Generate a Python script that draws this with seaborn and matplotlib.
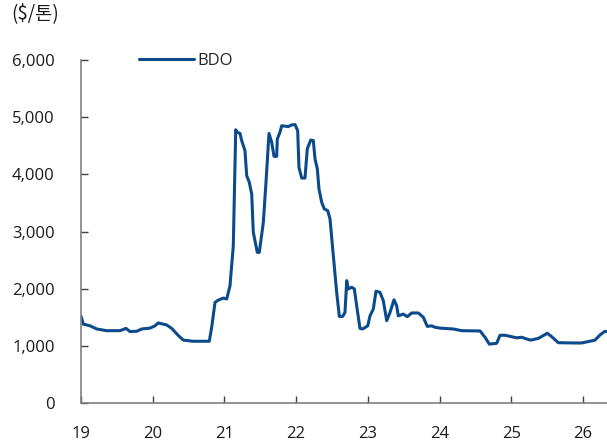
import pandas as pd
import matplotlib.pyplot as plt
import seaborn as sns

# BDO price (x = decimal year, 19 = 2019)
years = [19.000, 19.032, 19.126, 19.219, 19.358, 19.544, 19.628, 19.683, 19.777, 19.847,
         19.962, 20.032, 20.078, 20.195, 20.265, 20.357, 20.427, 20.566, 20.789, 20.823,
         20.869, 20.915, 20.985, 21.032, 21.078, 21.124, 21.158, 21.180, 21.218, 21.241,
         21.287, 21.311, 21.347, 21.381, 21.403, 21.459, 21.487, 21.543, 21.580, 21.622,
         21.660, 21.692, 21.729, 21.738, 21.775, 21.799, 21.891, 21.939, 21.985, 22.022,
         22.040, 22.078, 22.124, 22.156, 22.204, 22.240, 22.264, 22.296, 22.319, 22.357,
         22.393, 22.441, 22.473, 22.519, 22.566, 22.603, 22.650, 22.682, 22.706, 22.728,
         22.776, 22.812, 22.845, 22.891, 22.929, 22.999, 23.031, 23.077, 23.114, 23.170,
         23.216, 23.264, 23.310, 23.365, 23.403, 23.425, 23.495, 23.551, 23.612, 23.704,
         23.774, 23.830, 23.891, 23.937, 24.007, 24.192, 24.310, 24.565, 24.635, 24.695,
         24.798, 24.844, 24.914, 25.077, 25.146, 25.216, 25.272, 25.378, 25.448, 25.503,
         25.565, 25.657, 25.866, 25.983, 26.169, 26.238, 26.308, 26.336]
price = [1520, 1380, 1350, 1295, 1265, 1265, 1305, 1250, 1255, 1295,
         1310, 1350, 1400, 1365, 1305, 1180, 1100, 1080, 1080, 1325,
         1760, 1800, 1835, 1820, 2050, 2750, 4780, 4735, 4715, 4590,
         4415, 3975, 3860, 3655, 2985, 2635, 2635, 3160, 3860, 4715,
         4560, 4315, 4315, 4620, 4735, 4850, 4835, 4865, 4870, 4765,
         4120, 3935, 3935, 4445, 4600, 4590, 4270, 4095, 3745, 3510,
         3395, 3365, 3220, 2580, 1935, 1515, 1515, 1585, 2140, 1995,
         2025, 1995, 1700, 1305, 1295, 1350, 1525, 1645, 1955, 1935,
         1790, 1440, 1585, 1805, 1700, 1525, 1555, 1510, 1575, 1575,
         1500, 1340, 1350, 1325, 1310, 1295, 1265, 1260, 1150, 1030,
         1045, 1185, 1185, 1140, 1150, 1120, 1100, 1130, 1180, 1220,
         1160, 1055, 1050, 1050, 1100, 1190, 1255, 1250]
x_ticks = [19, 20, 21, 22, 23, 24, 25, 26]
y_ticks = [0, 1000, 2000, 3000, 4000, 5000, 6000]

df = pd.DataFrame({'year': years, 'price': price})

sns.set_style('white')
plt.rcParams['font.family'] = ['Open Sans', 'Noto Sans CJK KR', 'DejaVu Sans']

fig = plt.figure(figsize=(6.07, 4.46), dpi=100)
ax = fig.add_axes([81 / 607, 1 - 403 / 446, 526 / 607, 343 / 446])

sns.lineplot(data=df, x='year', y='price', color='#0B4A8B', linewidth=2.2, label='BDO', ax=ax)

ax.set_xlim(19, 19 + 526 / 71.7)
ax.set_ylim(0, 6000)
ax.set_xticks(x_ticks)
ax.set_xticklabels([str(t) for t in x_ticks])
ax.set_yticks(y_ticks)
ax.set_yticklabels([f'{t:,}' for t in y_ticks])
ax.set_xlabel('')
ax.set_ylabel('')

for side in ['top', 'right']:
    ax.spines[side].set_visible(False)
for side in ['left', 'bottom']:
    ax.spines[side].set_color('#808080')
    ax.spines[side].set_linewidth(1.2)

ax.tick_params(axis='both', direction='in', length=5, width=1, color='#404040',
               labelsize=12, labelcolor='#1a1a1a')
ax.tick_params(axis='y', pad=19)
ax.tick_params(axis='x', pad=16.5)
ax.tick_params(axis='x', which='both', bottom=True)
ax.tick_params(axis='y', which='both', left=True)

ax.legend(loc='center left', bbox_to_anchor=(124 / 607, 1 - 61 / 446),
          bbox_transform=fig.transFigure, frameon=False, fontsize=12,
          handlelength=3.3, handletextpad=0.2)

fig.text(11 / 607, 1 - 14 / 446, '($/톤)', fontsize=13.5, va='center', ha='left',
         color='#1a1a1a', family=['Noto Sans CJK KR', 'DejaVu Sans'])

plt.savefig('out.png', dpi=100)
